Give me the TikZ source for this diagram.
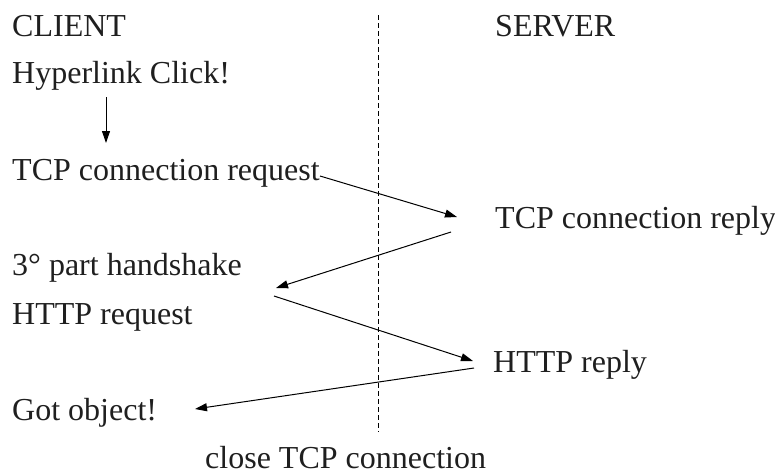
\documentclass[tikz,border=0pt]{standalone}
\usepackage{fontspec}
\setmainfont{Liberation Serif}
\usetikzlibrary{arrows.meta}

\tikzset{
  lbl/.style={anchor=base west, inner sep=0pt, text=black!88,
              font=\fontsize{32}{38}\selectfont},
  msg/.style={line width=1pt, -{Triangle[length=12pt,width=8pt]}},
  divider/.style={line width=1pt, dash pattern=on 5pt off 3pt}
}

\begin{document}
\begin{tikzpicture}[x=1pt, y=-1pt]
  \useasboundingbox (0,0) rectangle (775,472);

  % column headings
  \node[lbl] (client) at (12,36)  {CLIENT};
  \node[lbl] (server) at (495,36) {SERVER};

  % client side events
  \node[lbl] (click) at (12,83)  {Hyperlink Click!};
  \node[lbl] (req)   at (12,180) {TCP connection request};
  \node[lbl] (hs)    at (12,275) {3° part handshake};
  \node[lbl] (hreq)  at (12,324) {HTTP request};
  \node[lbl] (got)   at (12,420) {Got object!};

  % server side events
  \node[lbl] (rep)  at (495,228) {TCP connection reply};
  \node[lbl] (hrep) at (493,372) {HTTP reply};

  % footer
  \node[lbl] (close) at (205,468) {close TCP connection};

  % boundary between client and server
  \coordinate (divtop) at (378,15);
  \coordinate (divbot) at (378,432);
  \draw[divider] (divtop) -- (divbot);

  % message end points
  \coordinate (clickout) at ([shift={(94,14)}]click.base west);
  \coordinate (reqin)    at ([shift={(94,-37)}]req.base west);
  \coordinate (reqout)   at ([shift={(308,-4)}]req.base west);
  \coordinate (repin)    at ([shift={(-38,-11)}]rep.base west);
  \coordinate (repout)   at ([shift={(-44,4)}]rep.base west);
  \coordinate (hsin)     at ([shift={(264,13)}]hs.base west);
  \coordinate (hreqout)  at ([shift={(262,-28)}]hreq.base west);
  \coordinate (hrepin)   at ([shift={(-20,-11)}]hrep.base west);
  \coordinate (hrepout)  at ([shift={(-19,-4)}]hrep.base west);
  \coordinate (gotin)    at ([shift={(183,-11)}]got.base west);

  % messages
  \draw[msg] (clickout) -- (reqin);
  \draw[msg] (reqout) -- (repin);
  \draw[msg] (repout) -- (hsin);
  \draw[msg] (hreqout) -- (hrepin);
  \draw[msg] (hrepout) -- (gotin);
\end{tikzpicture}
\end{document}
